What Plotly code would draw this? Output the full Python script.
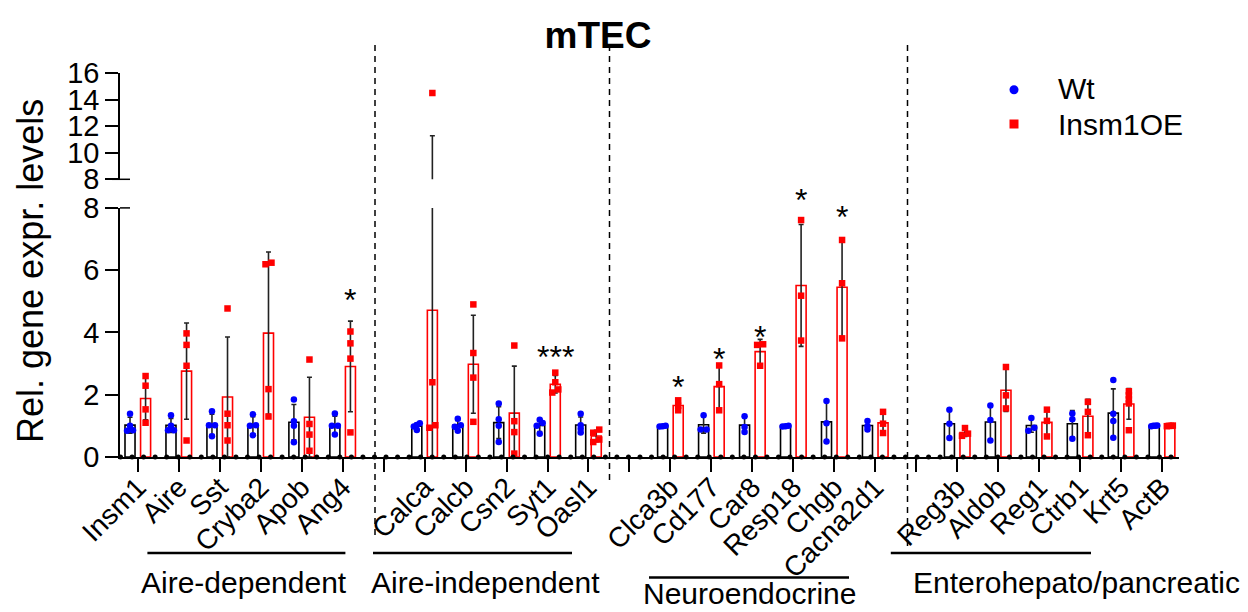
import numpy as np
import plotly.graph_objects as go

# ---------------- data ----------------
genes = ["Insm1", "Aire", "Sst", "Cryba2", "Apob", "Ang4", "",
         "Calca", "Calcb", "Csn2", "Syt1", "Oasl1", "",
         "Clca3b", "Cd177", "Car8", "Resp18", "Chgb", "Cacna2d1", "",
         "Reg3b", "Aldob", "Reg1", "Ctrb1", "Krt5", "ActB"]

wt_points = [
    [1.39, 1.00, 0.84, 0.86],   # Insm1
    [1.34, 1.00, 0.86, 0.86],   # Aire
    [1.47, 1.02, 1.02, 0.67],   # Sst
    [1.37, 1.02, 1.00, 0.70],   # Cryba2
    [1.85, 1.15, 1.00, 0.47],   # Apob
    [1.40, 1.00, 1.00, 0.72],   # Ang4
    None,
    [1.08, 1.03, 0.98, 0.87],   # Calca
    [1.23, 1.02, 0.97, 0.84],   # Calcb
    [1.72, 1.21, 1.00, 0.48],   # Csn2
    [1.20, 1.09, 1.00, 0.75],   # Syt1
    [1.39, 1.02, 0.91, 0.79],   # Oasl1
    None,
    [0.98, 1.00, 0.99],         # Clca3b
    [1.34, 0.88, 0.88],         # Cd177
    [1.31, 0.96, 0.80],         # Car8
    [0.98, 1.00, 0.99],         # Resp18
    [1.80, 1.08, 0.50],         # Chgb
    [1.16, 0.88, 0.99],         # Cacna2d1
    None,
    [1.52, 1.07, 0.61],         # Reg3b
    [1.65, 1.19, 0.53],         # Aldob
    [1.25, 0.94, 0.84],         # Reg1
    [1.40, 1.21, 0.59],         # Ctrb1
    [2.47, 1.39, 1.16, 0.62],   # Krt5
    [1.00, 0.99, 1.01, 1.00],   # ActB
]

oe_points = [
    [2.60, 2.29, 1.53, 1.10],   # Insm1
    [3.97, 3.60, 2.93, 0.53],   # Aire
    [4.77, 1.39, 1.02, 0.53],   # Sst
    [6.19, 6.24, 2.18, 1.30],   # Cryba2
    [3.13, 1.06, 0.72, 0.20],   # Apob
    [4.03, 3.65, 3.16, 0.79],   # Ang4
    None,
    [14.5, 2.40, 1.02, 0.94],   # Calca
    [4.90, 3.34, 2.55, 1.13],   # Calcb
    [3.58, 1.15, 0.80, 0.11],   # Csn2
    [2.71, 2.40, 2.07, 2.17],   # Syt1
    [0.88, 0.78, 0.48, 0.56],   # Oasl1
    None,
    [1.82, 1.64, 1.50],         # Clca3b
    [2.94, 2.34, 1.50],         # Cd177
    [3.62, 3.60, 2.93],         # Car8
    [7.61, 5.18, 3.74],         # Resp18
    [6.97, 5.58, 3.81],         # Chgb
    [1.45, 1.07, 0.77],         # Cacna2d1
    None,
    [0.93, 0.75, 0.68],         # Reg3b
    [2.89, 1.98, 1.56],         # Aldob
    [1.52, 1.16, 0.66],         # Reg1
    [1.77, 1.45, 0.70],         # Ctrb1
    [2.11, 1.98, 1.85, 1.72, 0.86],  # Krt5
    [1.00, 1.01, 0.99, 1.00],   # ActB
]

significance = {"Ang4": "*", "Syt1": "***", "Clca3b": "*", "Cd177": "*",
                "Car8": "*", "Resp18": "*", "Chgb": "*"}

group_labels = ["Aire-dependent", "Aire-independent", "Neuroendocrine",
                "Enterohepato/pancreatic"]

lower_ticks = [0, 2, 4, 6, 8]
upper_ticks = [8, 10, 12, 14, 16]
series_names = ["Wt", "Insm1OE"]

# ---------------- styling / geometry (screen pixel coordinates) ----------------
FONT = "Liberation Sans, Arial, sans-serif"
SCREEN_W, SCREEN_H = 1248, 612
BODY = 8                                   # default page margin around the plot div
W, H = SCREEN_W - BODY, SCREEN_H - BODY    # figure size
L_S, R_S = 120, 1179                       # plot area left/right (screen px)
T_S, Y0_S = 73, 457                        # plot area top / value-0 pixel (screen px)
PW, PH = R_S - L_S, Y0_S - T_S
LOW_TOP_S = 207.9                          # pixel of 8 on lower segment
UP_BOT_S = 179.3                           # pixel of 8 on upper segment
low_dom = [0, (Y0_S - LOW_TOP_S) / PH]
up_dom = [(Y0_S - UP_BOT_S) / PH, 1]
XPX = 40.97                                # px per category
X0PX = 137.8                               # px of first category
xr = [(L_S - X0PX) / XPX, (R_S - X0PX) / XPX]
YPX = (Y0_S - LOW_TOP_S) / 8.0
OFF = 0.19
BW = 0.245
BREAK = 8


def px2x(px):
    return (px - X0PX) / XPX


def px2py(py):
    return (Y0_S - py) / PH


def px2px(px):
    return (px - L_S) / PW


def v2py(v):
    return v / 8.0 * low_dom[1]


def swarm(vals, thr=3.3):
    vals = np.asarray(vals, float)
    order = np.argsort(vals)
    offs = np.zeros(len(vals))
    clusters, cur = [], [order[0]]
    for a, b in zip(order[:-1], order[1:]):
        if (vals[b] - vals[a]) * YPX < thr:
            cur.append(b)
        else:
            clusters.append(cur)
            cur = [b]
    clusters.append(cur)
    for c in clusters:
        n = len(c)
        if n > 1:
            d = 6.0 if n == 2 else 6.0 / (n - 1)
            for i, idx in enumerate(c):
                offs[idx] = (i - (n - 1) / 2) * d / XPX
    return offs


fig = go.Figure()

specs = [(wt_points, -OFF, "black", "blue", "circle", series_names[0]),
         (oe_points, OFF, "red", "red", "square", series_names[1])]

for pts_list, off, edge, mcol, sym, name in specs:
    bx, by, be = [], [], []
    px_l, py_l, px_u, py_u = [], [], [], []
    cx, cy, ce = [], [], []
    for k, pts in enumerate(pts_list):
        if pts is None:
            continue
        arr = np.asarray(pts, float)
        m, s = arr.mean(), arr.std(ddof=1)
        bx.append(k + off); by.append(m); be.append(s)
        if m + s > BREAK:
            cx.append(k + off); cy.append(m); ce.append(s)
        offs = swarm(arr)
        for v, o in zip(arr, offs):
            if v > BREAK:
                px_u.append(k + off + o); py_u.append(v)
            else:
                px_l.append(k + off + o); py_l.append(v)
    fig.add_trace(go.Bar(
        x=bx, y=by, width=BW, name=name, showlegend=False,
        marker=dict(color="rgba(255,255,255,0)", line=dict(color=edge, width=1.6)),
        error_y=dict(type="data", array=be, visible=True, color="#222",
                     thickness=1.6, width=2.5),
        xaxis="x", yaxis="y"))
    if cx:
        fig.add_trace(go.Scatter(
            x=cx, y=cy, mode="markers", showlegend=False, hoverinfo="skip",
            marker=dict(size=1, color="rgba(0,0,0,0)"),
            error_y=dict(type="data", array=ce, visible=True, color="#222",
                         thickness=1.6, width=2.5),
            xaxis="x", yaxis="y2"))
    fig.add_trace(go.Scatter(
        x=px_l, y=py_l, mode="markers", name=name, showlegend=False,
        marker=dict(symbol=sym, size=6.5, color=mcol), xaxis="x", yaxis="y"))
    if px_u:
        fig.add_trace(go.Scatter(
            x=px_u, y=py_u, mode="markers", name=name, showlegend=False,
            marker=dict(symbol=sym, size=6.5, color=mcol), xaxis="x", yaxis="y2"))

# GraphPad-style zero markers along the x axis
n_axis_dots = 92
dot_x = [px2x(120.5 + 11.544 * i) for i in range(n_axis_dots)]
fig.add_trace(go.Scatter(x=dot_x, y=[0] * n_axis_dots, mode="markers",
                         showlegend=False, hoverinfo="skip", cliponaxis=False,
                         marker=dict(size=5, color="black"), xaxis="x", yaxis="y"))

annotations = []
shapes = []

# significance stars (level in data units of the lower axis)
star_levels = {"Ang4": 5.27, "Syt1": 3.43, "Clca3b": 2.47, "Cd177": 3.38,
               "Car8": 4.08, "Resp18": 8.47, "Chgb": 7.93}
for g, txt in significance.items():
    k = genes.index(g)
    annotations.append(dict(x=k + OFF, y=v2py(star_levels[g]), xref="x", yref="paper",
                            text=txt, showarrow=False, yshift=-7,
                            xanchor="center", yanchor="middle",
                            font=dict(family=FONT, size=32, color="black")))

# dashed separators
for xpx, ybot in [(375, 540), (609.5, 483), (907.5, 550)]:
    shapes.append(dict(type="line", xref="x", yref="paper",
                       x0=px2x(xpx), x1=px2x(xpx), y0=px2py(45), y1=px2py(ybot),
                       line=dict(color="black", width=1.5, dash="6px,5px")))

# group bars and labels
group_geom = [((147.4, 345.4), 553, 243.8, 582),
              ((373, 572), 553, 485.7, 582),
              ((649, 849), 577.5, 749, 593),
              ((890.8, 1091), 553, 1076, 582)]
for lab, ((a, b), ly, tx, ty) in zip(group_labels, group_geom):
    shapes.append(dict(type="line", xref="x", yref="paper",
                       x0=px2x(a), x1=px2x(b), y0=px2py(ly), y1=px2py(ly),
                       line=dict(color="black", width=2.5)))
    annotations.append(dict(x=px2x(tx), y=px2py(ty), xref="x", yref="paper",
                            text=lab, showarrow=False, xanchor="center", yanchor="middle",
                            font=dict(family=FONT, size=30, color="black")))

# axis break marks
shapes.append(dict(type="line", xref="paper", yref="paper",
                   x0=px2px(112), x1=px2px(130), y0=up_dom[0], y1=up_dom[0],
                   line=dict(color="black", width=1.5)))
shapes.append(dict(type="line", xref="paper", yref="paper",
                   x0=0, x1=px2px(130), y0=low_dom[1], y1=low_dom[1],
                   line=dict(color="black", width=1.5)))

# y-axis title
annotations.append(dict(x=px2px(30), y=px2py(271), xref="paper", yref="paper",
                        text="Rel. gene expr. levels", textangle=-90, showarrow=False,
                        xanchor="center", yanchor="middle",
                        font=dict(family=FONT, size=36, color="black")))

# legend (manual)
shapes.append(dict(type="circle", xref="paper", yref="paper",
                   x0=px2px(1009.5), x1=px2px(1018.5),
                   y0=px2py(94.2), y1=px2py(85.2), fillcolor="blue", line=dict(width=0)))
shapes.append(dict(type="rect", xref="paper", yref="paper",
                   x0=px2px(1009.5), x1=px2px(1018.5),
                   y0=px2py(128.5), y1=px2py(119.5), fillcolor="red", line=dict(width=0)))
for name, ypx in zip(series_names, [88, 124]):
    annotations.append(dict(x=px2px(1056), y=px2py(ypx), xref="paper", yref="paper",
                            text=name, showarrow=False, xanchor="left", yanchor="middle",
                            font=dict(family=FONT, size=30, color="black")))

axis_common = dict(showgrid=False, zeroline=False, showline=True, linecolor="black",
                   linewidth=1.5, ticks="outside", ticklen=13, tickwidth=1.5,
                   tickcolor="black", automargin=False,
                   tickfont=dict(family=FONT, size=29, color="black"))

fig.update_layout(
    width=W, height=H,
    margin=dict(l=L_S - BODY, r=W - (R_S - BODY), t=T_S - BODY, b=H - (Y0_S - BODY)),
    paper_bgcolor="white", plot_bgcolor="white", barmode="overlay",
    showlegend=False,
    title=dict(text="<b>mTEC</b>", x=(598 - BODY) / W, xanchor="center",
               y=1 - (35 - BODY) / H, yanchor="middle",
               font=dict(family=FONT, size=37, color="black")),
    xaxis=dict(range=xr, tickmode="array", tickvals=list(range(len(genes))),
               ticktext=genes, tickangle=-45, anchor="y", ticklabelstandoff=-12,
               **{**axis_common, "tickfont": dict(family=FONT, size=28, color="black")}),
    yaxis=dict(domain=low_dom, range=[0, 8], tickmode="array", tickvals=lower_ticks,
               anchor="x", **axis_common),
    yaxis2=dict(domain=up_dom, range=[8, 16], tickmode="array", tickvals=upper_ticks,
                anchor="x", **axis_common),
    annotations=annotations, shapes=shapes,
)

fig.write_html("out.html")
